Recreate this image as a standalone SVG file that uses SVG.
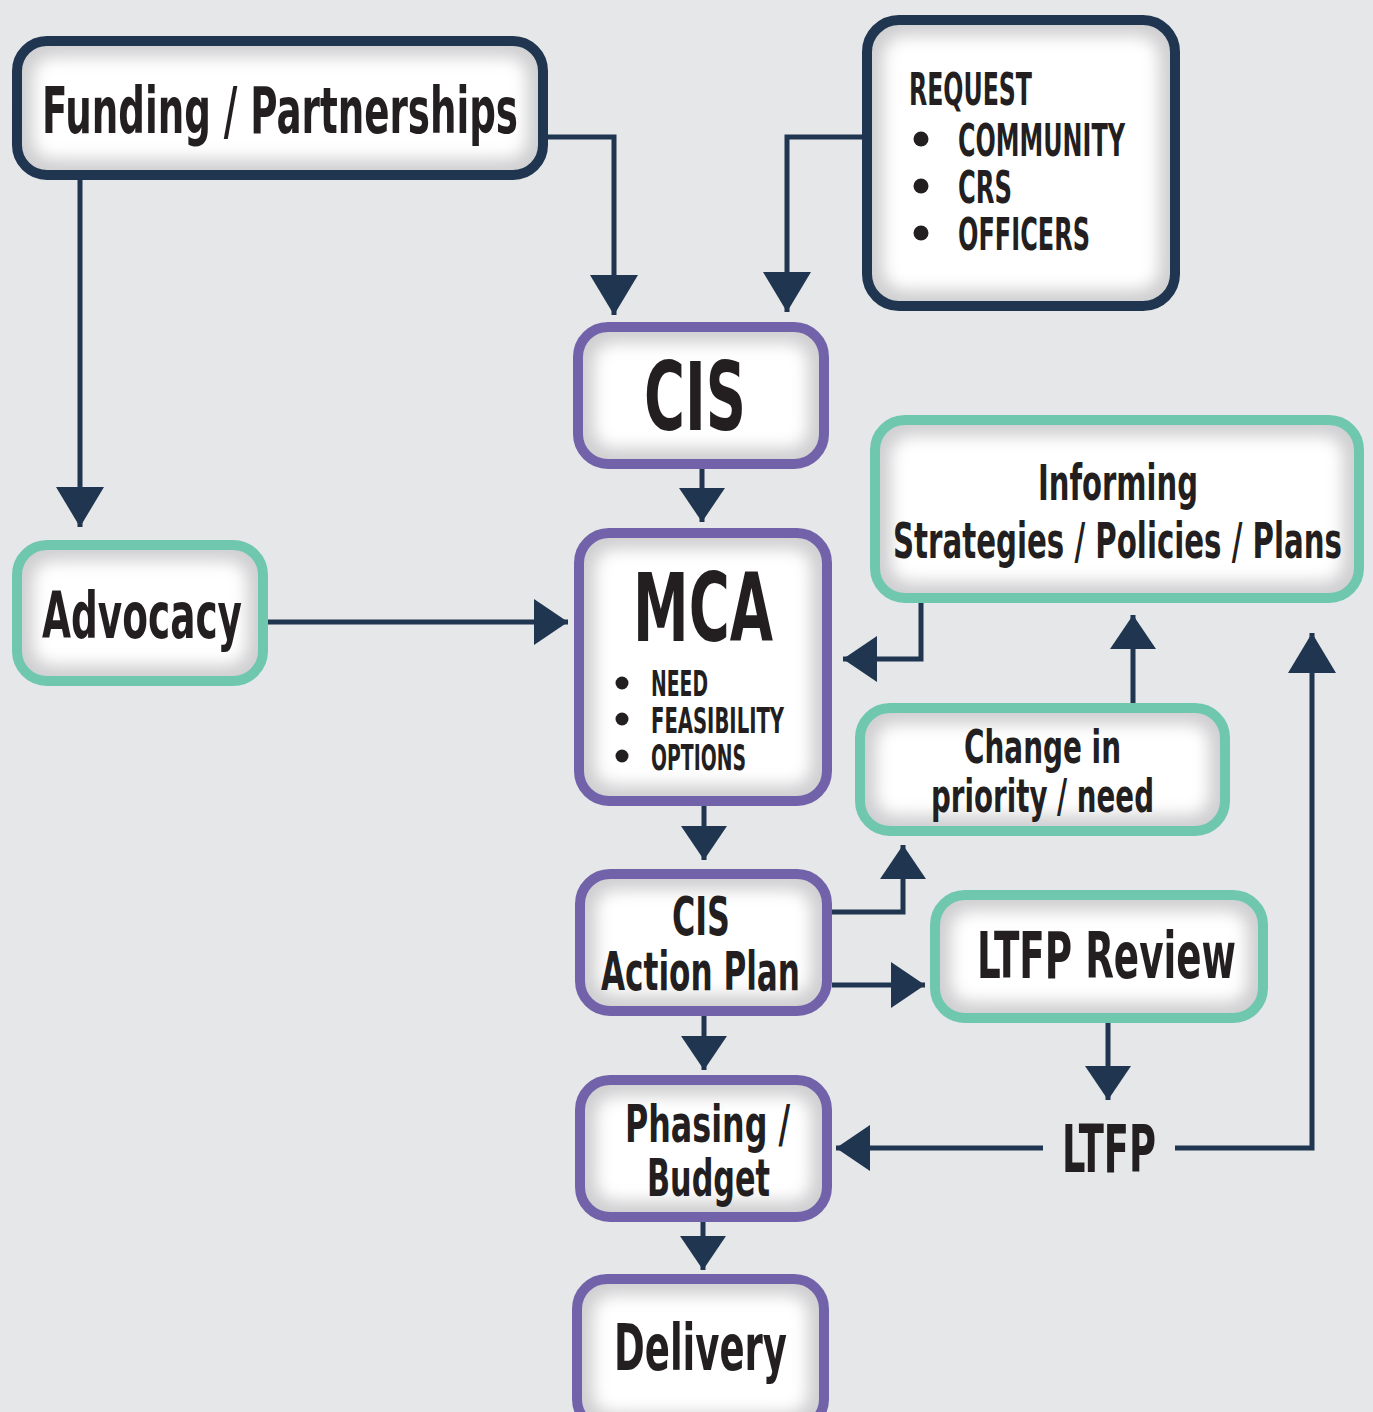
<svg xmlns="http://www.w3.org/2000/svg" width="1373" height="1412" viewBox="0 0 1373 1412">
  <defs>
    <style>
      .bg { fill: #e6e7e9; }
      .rim { fill: #cfcfd1; }
      .core { fill: #ffffff; filter: url(#soft); }
      .edge { fill: none; stroke-width: 10; }
      .navy { stroke: #1f3550; }
      .purple { stroke: #7262aa; }
      .teal { stroke: #6fc7ae; }
      .lbl { font-family: "Liberation Sans Narrow", "DejaVu Sans Condensed", "Liberation Sans", sans-serif; font-weight: 700; fill: #231f20; }
      .dot { fill: #231f20; }
      .conn path { fill: none; stroke: #1f3550; stroke-width: 5; }
      .conn .sm { marker-end: url(#head); }
      .conn .lg { marker-end: url(#headL); }
    </style>
    <!-- the white core of each box is softened so it fades into the grey rim -->
    <filter id="soft" x="-30%" y="-30%" width="160%" height="160%">
      <feGaussianBlur stdDeviation="8"/>
    </filter>
    <marker id="head" markerUnits="userSpaceOnUse" viewBox="0 0 34 46" markerWidth="34" markerHeight="46" refX="34" refY="23" orient="auto">
      <path d="M0,0 L34,23 L0,46 Z" fill="#1f3550"/>
    </marker>
    <marker id="headL" markerUnits="userSpaceOnUse" viewBox="0 0 40 48" markerWidth="40" markerHeight="48" refX="40" refY="24" orient="auto">
      <path d="M0,0 L40,24 L0,48 Z" fill="#1f3550"/>
    </marker>
  </defs>

  <rect class="bg" x="0" y="0" width="1373" height="1412"/>

  <!-- connectors -->
  <g id="connectors" class="conn">
    <path class="lg" d="M548,137 H614 V315"/>
    <path class="lg" d="M862,137 H787 V312"/>
    <path class="lg" d="M80,180 V527"/>
    <path class="sm" d="M702,469 V522"/>
    <path class="sm" d="M268,622 H568"/>
    <path class="sm" d="M921,603 V659 H843"/>
    <path class="sm" d="M1133,703 V615"/>
    <path class="sm" d="M832,912 H903 V845"/>
    <path class="sm" d="M832,985 H925"/>
    <path class="sm" d="M704,806 V860"/>
    <path class="sm" d="M704,1016 V1070"/>
    <path class="sm" d="M1108,1023 V1100"/>
    <path class="sm" d="M1043,1148 H836"/>
    <path class="lg" d="M1175,1148 H1312 V633"/>
    <path class="sm" d="M703,1222 V1270"/>
  </g>

  <g id="funding">
    <rect class="rim" x="17" y="41" width="526" height="134" rx="30"/>
    <rect class="core" x="33" y="57" width="494" height="102" rx="20"/>
    <rect class="edge navy" x="17" y="41" width="526" height="134" rx="30"/>
    <text class="lbl" x="42" y="133" font-size="64" textLength="476" lengthAdjust="spacingAndGlyphs">Funding / Partnerships</text>
  </g>

  <g id="request">
    <rect class="rim" x="867" y="20" width="308" height="286" rx="32"/>
    <rect class="core" x="883" y="36" width="276" height="254" rx="22"/>
    <rect class="edge navy" x="867" y="20" width="308" height="286" rx="32"/>
    <text class="lbl" x="909" y="105" font-size="44" textLength="123" lengthAdjust="spacingAndGlyphs">REQUEST</text>
    <circle class="dot" cx="921" cy="139" r="7.5"/>
    <circle class="dot" cx="921" cy="186" r="7.5"/>
    <circle class="dot" cx="921" cy="233" r="7.5"/>
    <text class="lbl" x="958" y="156" font-size="44" textLength="167" lengthAdjust="spacingAndGlyphs">COMMUNITY</text>
    <text class="lbl" x="958" y="203" font-size="44" textLength="54" lengthAdjust="spacingAndGlyphs">CRS</text>
    <text class="lbl" x="958" y="250" font-size="44" textLength="132" lengthAdjust="spacingAndGlyphs">OFFICERS</text>
  </g>

  <g id="cis">
    <rect class="rim" x="578" y="327" width="246" height="137" rx="30"/>
    <rect class="core" x="594" y="343" width="214" height="105" rx="20"/>
    <rect class="edge purple" x="578" y="327" width="246" height="137" rx="30"/>
    <text class="lbl" x="644" y="430" font-size="95" textLength="102" lengthAdjust="spacingAndGlyphs">CIS</text>
  </g>

  <g id="mca">
    <rect class="rim" x="579" y="533" width="248" height="268" rx="30"/>
    <rect class="core" x="595" y="549" width="216" height="236" rx="20"/>
    <rect class="edge purple" x="579" y="533" width="248" height="268" rx="30"/>
    <text class="lbl" x="633" y="641" font-size="95" textLength="140" lengthAdjust="spacingAndGlyphs">MCA</text>
    <circle class="dot" cx="622" cy="683" r="6.5"/>
    <circle class="dot" cx="622" cy="719" r="6.5"/>
    <circle class="dot" cx="622" cy="756" r="6.5"/>
    <text class="lbl" x="651" y="696" font-size="35" textLength="57" lengthAdjust="spacingAndGlyphs">NEED</text>
    <text class="lbl" x="651" y="733" font-size="35" textLength="133" lengthAdjust="spacingAndGlyphs">FEASIBILITY</text>
    <text class="lbl" x="651" y="770" font-size="35" textLength="95" lengthAdjust="spacingAndGlyphs">OPTIONS</text>
  </g>

  <g id="advocacy">
    <rect class="rim" x="17" y="545" width="246" height="136" rx="30"/>
    <rect class="core" x="33" y="561" width="214" height="104" rx="20"/>
    <rect class="edge teal" x="17" y="545" width="246" height="136" rx="30"/>
    <text class="lbl" x="42" y="638" font-size="64" textLength="200" lengthAdjust="spacingAndGlyphs">Advocacy</text>
  </g>

  <g id="informing">
    <rect class="rim" x="875" y="420" width="484" height="178" rx="30"/>
    <rect class="core" x="891" y="436" width="452" height="146" rx="20"/>
    <rect class="edge teal" x="875" y="420" width="484" height="178" rx="30"/>
    <text class="lbl" x="1038" y="500" font-size="50" textLength="160" lengthAdjust="spacingAndGlyphs">Informing</text>
    <text class="lbl" x="893" y="558" font-size="50" textLength="449" lengthAdjust="spacingAndGlyphs">Strategies / Policies / Plans</text>
  </g>

  <g id="change">
    <rect class="rim" x="860" y="708" width="365" height="123" rx="30"/>
    <rect class="core" x="876" y="724" width="333" height="91" rx="20"/>
    <rect class="edge teal" x="860" y="708" width="365" height="123" rx="30"/>
    <text class="lbl" x="964" y="763" font-size="46" textLength="157" lengthAdjust="spacingAndGlyphs">Change in</text>
    <text class="lbl" x="931" y="812" font-size="46" textLength="223" lengthAdjust="spacingAndGlyphs">priority / need</text>
  </g>

  <g id="action-plan">
    <rect class="rim" x="580" y="874" width="247" height="137" rx="30"/>
    <rect class="core" x="596" y="890" width="215" height="105" rx="20"/>
    <rect class="edge purple" x="580" y="874" width="247" height="137" rx="30"/>
    <text class="lbl" x="672" y="935" font-size="53" textLength="58" lengthAdjust="spacingAndGlyphs">CIS</text>
    <text class="lbl" x="601" y="990" font-size="53" textLength="199" lengthAdjust="spacingAndGlyphs">Action Plan</text>
  </g>

  <g id="ltfp-review">
    <rect class="rim" x="935" y="895" width="328" height="123" rx="30"/>
    <rect class="core" x="951" y="911" width="296" height="91" rx="20"/>
    <rect class="edge teal" x="935" y="895" width="328" height="123" rx="30"/>
    <text class="lbl" x="977" y="978" font-size="64" textLength="259" lengthAdjust="spacingAndGlyphs">LTFP Review</text>
  </g>

  <g id="ltfp">
    <text class="lbl" x="1062" y="1172" font-size="65" textLength="94" lengthAdjust="spacingAndGlyphs">LTFP</text>
  </g>

  <g id="phasing">
    <rect class="rim" x="580" y="1080" width="247" height="137" rx="30"/>
    <rect class="core" x="596" y="1096" width="215" height="105" rx="20"/>
    <rect class="edge purple" x="580" y="1080" width="247" height="137" rx="30"/>
    <text class="lbl" x="625" y="1142" font-size="52" textLength="165" lengthAdjust="spacingAndGlyphs">Phasing /</text>
    <text class="lbl" x="647" y="1196" font-size="52" textLength="123" lengthAdjust="spacingAndGlyphs">Budget</text>
  </g>

  <g id="delivery">
    <rect class="rim" x="577" y="1279" width="247" height="150" rx="30"/>
    <rect class="core" x="593" y="1295" width="215" height="118" rx="20"/>
    <rect class="edge purple" x="577" y="1279" width="247" height="150" rx="30"/>
    <text class="lbl" x="614" y="1370" font-size="64" textLength="173" lengthAdjust="spacingAndGlyphs">Delivery</text>
  </g>
</svg>
